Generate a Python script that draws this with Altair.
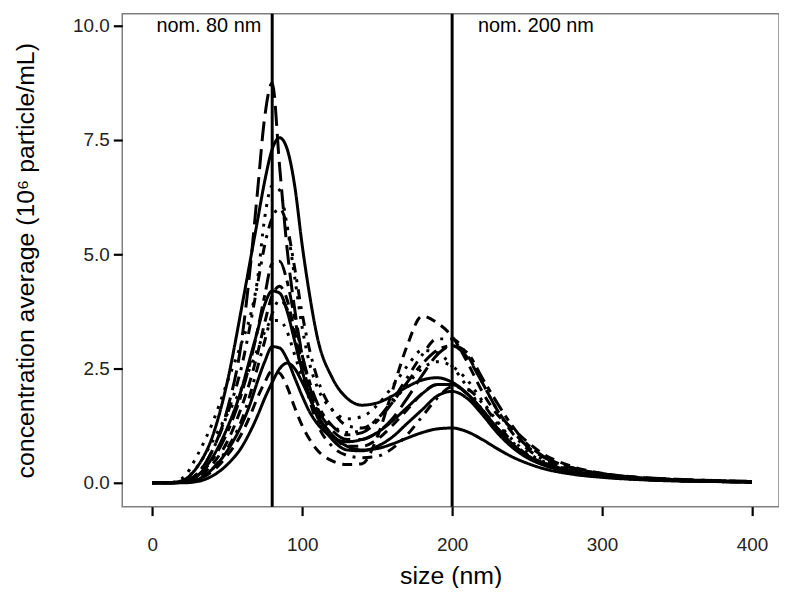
import altair as alt
import pandas as pd

# size grid (nm)
sizes = [0, 10, 20, 30, 40, 50, 60, 65, 70, 75, 80, 85, 90, 95, 100, 105, 110, 120, 130, 140,
         150, 160, 170, 180, 190, 200, 210, 220, 230, 240, 250, 260, 280, 300, 325, 350, 375, 400]

s01 = [0, 0, 0.05, 0.35, 1.0, 2.2, 3.9, 4.8, 5.7, 6.6, 7.3, 7.55, 7.3, 6.5, 5.2, 4.1, 3.2, 2.3, 1.85, 1.7,
       1.75, 1.9, 2.1, 2.25, 2.3, 2.2, 1.95, 1.55, 1.15, 0.85, 0.6, 0.45, 0.27, 0.17, 0.1, 0.07, 0.05, 0.03]
s02 = [0, 0, 0.03, 0.2, 0.7, 1.6, 3.2, 4.6, 6.3, 8.0, 8.75, 6.9, 5.1, 3.8, 2.8, 2.1, 1.65, 1.15, 0.95, 0.95,
       1.1, 1.4, 1.85, 2.35, 2.8, 3.0, 2.75, 2.2, 1.6, 1.15, 0.8, 0.58, 0.33, 0.2, 0.12, 0.08, 0.05, 0.03]
s03 = [0, 0, 0.1, 0.6, 1.3, 2.2, 3.1, 3.6, 4.4, 5.8, 6.5, 6.4, 5.6, 4.5, 3.4, 2.6, 2.1, 1.6, 1.4, 1.45,
       1.7, 2.1, 2.55, 2.9, 2.85, 2.55, 2.1, 1.6, 1.2, 0.85, 0.6, 0.45, 0.27, 0.17, 0.1, 0.06, 0.04, 0.02]
s04 = [0, 0, 0.02, 0.2, 0.7, 1.5, 2.6, 3.4, 4.3, 5.2, 5.8, 6.0, 5.6, 4.7, 3.7, 2.9, 2.3, 1.6, 1.25, 1.2,
       1.4, 1.8, 2.3, 2.8, 3.15, 3.15, 2.8, 2.2, 1.6, 1.1, 0.75, 0.52, 0.3, 0.18, 0.1, 0.06, 0.04, 0.02]
s05 = [0, 0, 0.02, 0.15, 0.5, 1.1, 2.0, 2.6, 3.3, 4.1, 4.8, 4.85, 4.4, 3.6, 2.8, 2.2, 1.75, 1.25, 1.05, 1.1,
       1.35, 1.75, 2.2, 2.6, 2.9, 3.0, 2.85, 2.3, 1.75, 1.25, 0.85, 0.6, 0.33, 0.2, 0.11, 0.07, 0.04, 0.02]
s06 = [0, 0, 0.01, 0.1, 0.4, 0.9, 1.7, 2.2, 2.8, 3.5, 4.1, 4.3, 4.0, 3.3, 2.6, 2.0, 1.55, 1.05, 0.8, 0.8,
       0.95, 1.25, 1.6, 1.95, 2.15, 2.15, 1.95, 1.6, 1.2, 0.85, 0.6, 0.43, 0.25, 0.15, 0.09, 0.05, 0.03, 0.02]
s07 = [0, 0, 0.01, 0.08, 0.3, 0.75, 1.4, 1.9, 2.5, 3.1, 3.7, 4.0, 3.8, 3.2, 2.4, 1.8, 1.3, 0.8, 0.6, 0.55,
       0.58, 0.75, 1.05, 1.45, 1.85, 2.1, 2.05, 1.75, 1.3, 0.9, 0.62, 0.44, 0.25, 0.15, 0.08, 0.05, 0.03, 0.02]
s08 = [0, 0, 0.01, 0.07, 0.3, 0.7, 1.3, 1.7, 2.2, 2.65, 2.98, 2.95, 2.7, 2.3, 1.9, 1.55, 1.3, 1.0, 0.9, 0.95,
       1.1, 1.35, 1.65, 1.95, 2.15, 2.15, 1.95, 1.6, 1.2, 0.85, 0.6, 0.42, 0.24, 0.14, 0.08, 0.05, 0.03, 0.02]
s09 = [0, 0, 0, 0.03, 0.15, 0.4, 0.8, 1.1, 1.45, 1.85, 2.2, 2.5, 2.62, 2.5, 2.2, 1.85, 1.5, 1.05, 0.8, 0.72,
       0.75, 0.85, 0.98, 1.1, 1.18, 1.2, 1.12, 0.95, 0.75, 0.57, 0.43, 0.32, 0.19, 0.12, 0.07, 0.04, 0.03, 0.02]
s10 = [0, 0, 0.01, 0.07, 0.25, 0.6, 1.1, 1.45, 1.85, 2.2, 2.45, 2.4, 2.1, 1.65, 1.25, 0.95, 0.72, 0.48, 0.4, 0.42,
       1.0, 2.0, 3.0, 3.65, 3.5, 3.2, 2.65, 2.0, 1.5, 1.2, 0.9, 0.65, 0.36, 0.21, 0.12, 0.07, 0.04, 0.02]
s11 = [0, 0, 0.05, 0.35, 0.9, 1.5, 2.1, 2.5, 2.9, 3.3, 3.55, 3.55, 3.3, 2.8, 2.3, 1.9, 1.6, 1.25, 1.1, 1.15,
       1.4, 1.75, 2.15, 2.5, 2.65, 2.55, 2.25, 1.8, 1.35, 0.95, 0.67, 0.48, 0.28, 0.17, 0.1, 0.06, 0.04, 0.02]
s12 = [0, 0, 0.02, 0.15, 0.55, 1.2, 2.1, 2.7, 3.3, 3.9, 4.2, 4.15, 3.75, 3.1, 2.45, 1.9, 1.45, 0.95, 0.72, 0.7,
       0.8, 1.0, 1.3, 1.6, 1.9, 2.0, 1.85, 1.5, 1.1, 0.78, 0.55, 0.4, 0.23, 0.14, 0.08, 0.05, 0.03, 0.02]

series = {"s01": s01, "s02": s02, "s03": s03, "s04": s04, "s05": s05, "s06": s06,
          "s07": s07, "s08": s08, "s09": s09, "s10": s10, "s11": s11, "s12": s12}
linetypes = {"s01": "solid", "s02": "longdash", "s03": "dotted", "s04": "dotdash",
             "s05": "twodash", "s06": "dashed", "s07": "dotdash", "s08": "solid",
             "s09": "solid", "s10": "dashed", "s11": "dotted", "s12": "solid"}

nominal_sizes = [80, 200]
nominal_labels = ["nom. 80 nm", "nom. 200 nm"]

rows = []
for name, vals in series.items():
    for x, y in zip(sizes, vals):
        rows.append({"sample": name, "size": x, "conc": y, "lt": linetypes[name]})
df = pd.DataFrame(rows)

lt_domain = ["solid", "dashed", "dotted", "dotdash", "longdash", "twodash"]
lt_range = [[1, 0], [10, 7], [3, 7], [3, 7, 10, 7], [20, 8], [6, 6, 16, 6]]

xscale = alt.Scale(domain=[-20, 418], nice=False, zero=False)
yscale = alt.Scale(domain=[-0.52, 10.26], nice=False, zero=False)

lines = alt.Chart(df).mark_line(strokeWidth=3, color="black", interpolate="monotone",
                                strokeCap="butt", clip=True).encode(
    x=alt.X("size:Q", scale=xscale,
            axis=alt.Axis(title="size (nm)", values=[0, 100, 200, 300, 400], format="d")),
    y=alt.Y("conc:Q", scale=yscale,
            axis=alt.Axis(title="concentration average (10⁶ particle/mL)",
                          values=[0, 2.5, 5, 7.5, 10], format=".1f")),
    strokeDash=alt.StrokeDash("lt:N", scale=alt.Scale(domain=lt_domain, range=lt_range), legend=None),
    detail="sample:N",
)

vdf = pd.DataFrame({"size": nominal_sizes})
vrules = alt.Chart(vdf).mark_rule(color="black", strokeWidth=3).encode(x="size:Q")

tdf = pd.DataFrame({"size": nominal_sizes, "label": nominal_labels, "y": [10.0, 10.0]})
t1 = alt.Chart(tdf.iloc[[0]]).mark_text(align="right", baseline="middle", dx=-11,
                                         fontSize=20, font="Liberation Sans", color="black").encode(
    x="size:Q", y="y:Q", text="label:N")
t2 = alt.Chart(tdf.iloc[[1]]).mark_text(align="left", baseline="middle", dx=26,
                                         fontSize=20, font="Liberation Sans", color="black").encode(
    x="size:Q", y="y:Q", text="label:N")

chart = alt.layer(lines, vrules, t1, t2).properties(
    width=661, height=496,
    autosize=alt.AutoSizeParams(type="none"),
    padding={"left": 115, "top": 4, "right": 0, "bottom": 80},
).configure_view(stroke="#7f7f7f", strokeWidth=1.5).configure_axis(
    domain=False, grid=False, ticks=True, tickColor="black", tickWidth=2.2, tickSize=9,
    labelFont="Liberation Sans", labelFontSize=19, labelColor="#222", labelPadding=4,
    titleFont="Liberation Sans", titleFontSize=25, titleFontWeight="normal", titleColor="black",
).configure_axisX(labelPadding=20, titlePadding=9).configure_axisY(titlePadding=34)

chart.save("out.html", embed_options={"renderer": "svg", "actions": False})
